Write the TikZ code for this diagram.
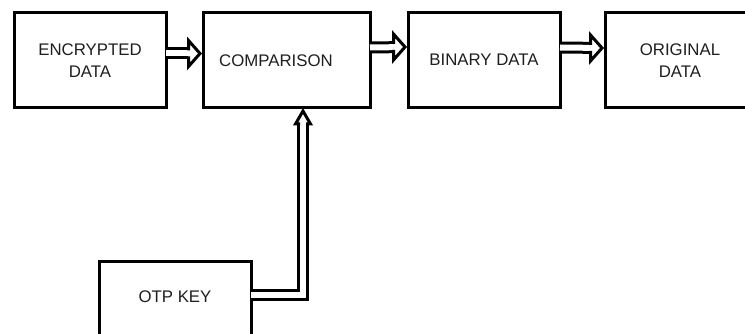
\documentclass[tikz,border=0pt]{standalone}
\usepackage{fontspec}
\setmainfont{Liberation Sans}
\begin{document}
\begin{tikzpicture}[x=1pt,y=-1pt,
  blockbox/.style={draw=black, line width=3pt, fill=white, rectangle,
    minimum width=#1, minimum height=95pt, inner sep=0pt, outer sep=0pt,
    font=\fontsize{16.8}{21.5}\selectfont, align=center, text=black!88},
  blockbox/.default=152pt,
  labeltext/.style={font=\fontsize{16.8}{21.5}\selectfont, text=black!88, inner sep=0pt},
  % double-lined shaft, stopping where the hollow head begins
  dblshaft/.style={draw=black, line width=3pt, double=white, double distance=6pt,
    line join=miter, shorten >=#1},
  dblshaft/.default=15pt,
  % hollow head of a block arrow pointing along +x:
  % #1 = half height, #2 = distance of its base behind the anchor
  pics/hollowhead/.style 2 args={code={
    \fill[white] (-#2,#1) -- (-3,0) -- (-#2,-#1) -- cycle;
    \draw[line width=3pt, line join=miter]
      ({-#2-1.5},4.5) -- (-#2,4.5) -- (-#2,#1) -- (-3,0)
      -- (-#2,-#1) -- (-#2,-4.5) -- ({-#2-1.5},-4.5);
  }}]
  \useasboundingbox (0,0) rectangle (745,334);
  \fill[white] (0,0) rectangle (745,334);
  \clip (0,0) rectangle (745,334);

  % blocks of the chain
  \node[blockbox] (enc) at (90,60.5) {ENCRYPTED\\DATA};
  \node[blockbox=167pt] (cmp) at (286.5,60.5) {};
  \node[labeltext] (cmptxt) at (276,60.5) {COMPARISON};
  \node[blockbox] (bin) at (484,60) {BINARY DATA};
  \node[blockbox=150pt] (org) at (680,60.5) {ORIGINAL\\DATA};
  \node[blockbox] (otp) at (175,308.5) {};
  \node[labeltext] (otptxt) at (175,296.5) {OTP KEY};

  % connectors
  \draw[dblshaft] ([yshift=7pt]enc.east) -- ([yshift=7pt]cmp.west);
  \pic at ([yshift=7pt]cmp.west) {hollowhead={13}{14.5}};
  \draw[dblshaft] ([yshift=13pt]cmp.east) -- ([yshift=13pt]bin.west);
  \pic at ([yshift=13pt]bin.west) {hollowhead={13}{14.5}};
  \draw[dblshaft] ([yshift=12.5pt]bin.east) -- ([yshift=12.5pt]org.west);
  \pic at ([yshift=12.5pt]org.west) {hollowhead={13}{14.5}};
  \draw[dblshaft=16.5pt] ([yshift=13.5pt]otp.east) -| ([xshift=16.5pt]cmp.south);
  \pic[rotate=90] at ([xshift=16.5pt]cmp.south) {hollowhead={7.5}{16}};
\end{tikzpicture}
\end{document}
